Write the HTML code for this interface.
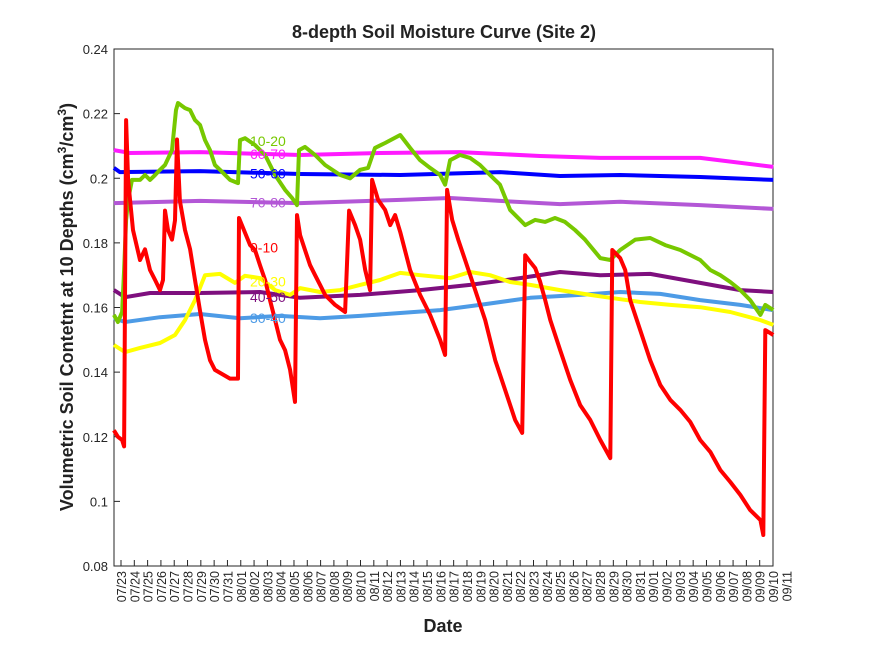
<!DOCTYPE html>
<html><head><meta charset="utf-8"><style>
body{margin:0;background:#fff;width:875px;height:656px;overflow:hidden}
svg{display:block;font-family:"Liberation Sans",sans-serif}
</style></head><body>
<svg id="chart" width="875" height="656" viewBox="0 0 875 656">
<rect x="0" y="0" width="875" height="656" fill="#fff"/>
<text x="444" y="38" text-anchor="middle" font-size="18" font-weight="bold" fill="#222">8-depth Soil Moisture Curve (Site 2)</text>
<text x="443" y="632" text-anchor="middle" font-size="18" font-weight="bold" fill="#222">Date</text>
<text transform="translate(73,307) rotate(-90)" text-anchor="middle" font-size="18" font-weight="bold" fill="#222">Volumetric Soil Contetnt at 10 Depths (cm<tspan font-size="12" dy="-7">3</tspan><tspan dy="7">/cm</tspan><tspan font-size="12" dy="-7">3</tspan><tspan dy="7">)</tspan></text>
<g id="axes"></g><g id="lines"></g><g id="labels"></g>
</svg>
<script>
const yTicks=[0.08,0.1,0.12,0.14,0.16,0.18,0.2,0.22,0.24];
const yTickLabels=["0.08","0.1","0.12","0.14","0.16","0.18","0.2","0.22","0.24"];
const dateLabels=["07/23","07/24","07/25","07/26","07/27","07/28","07/29","07/30","07/31","08/01","08/02","08/03","08/04","08/05","08/06","08/07","08/08","08/09","08/10","08/11","08/12","08/13","08/14","08/15","08/16","08/17","08/18","08/19","08/20","08/21","08/22","08/23","08/24","08/25","08/26","08/27","08/28","08/29","08/30","08/31","09/01","09/02","09/03","09/04","09/05","09/06","09/07","09/08","09/09","09/10","09/11"];
const s0_10_d=[-0.53,-0.23,0.08,0.23,0.38,0.53,0.9,1.43,1.8,2.18,2.56,2.93,3.16,3.31,3.53,3.83,4.06,4.21,4.43,4.81,5.19,5.56,5.94,6.31,6.69,7.06,8.19,8.79,8.87,9.24,9.7,10.07,10.45,10.83,11.2,11.58,11.95,12.33,12.71,13.08,13.23,13.46,13.83,14.21,14.59,14.96,15.34,16.09,16.84,17.14,17.59,17.97,18.35,18.72,18.87,19.32,19.85,20.23,20.6,20.98,21.73,22.48,23.23,23.98,24.36,24.51,24.89,25.34,25.86,26.62,27.37,28.12,28.87,29.62,30.15,30.38,30.75,31.13,31.5,31.88,32.26,33.01,33.76,34.51,35.26,36.02,36.77,36.92,37.52,37.89,38.27,39.02,39.77,40.53,41.28,42.03,42.78,43.53,44.29,45.04,45.79,46.54,47.29,48.05,48.27,48.42,49.02];
const s0_10_v=[.122,.120,.119,.117,.218,.1995,.184,.1747,.178,.1716,.1685,.1654,.1685,.190,.184,.181,.187,.212,.193,.184,.178,.1685,.159,.150,.1437,.1407,.138,.138,.1877,.184,.1793,.1778,.1731,.1685,.1623,.1561,.150,.1468,.1407,.1308,.1886,.1824,.1778,.1731,.170,.167,.1639,.1608,.1586,.190,.1855,.181,.1716,.1654,.1995,.1933,.1902,.1855,.1886,.1834,.1716,.1639,.1577,.150,.1453,.1964,.1871,.181,.1747,.1654,.1561,.1437,.1345,.1252,.1212,.1762,.1741,.1722,.168,.1623,.1561,.1468,.1376,.1298,.1252,.119,.1134,.1778,.1753,.1716,.1623,.153,.1437,.136,.1314,.1283,.1246,.119,.1153,.1097,.106,.102,.0973,.0942,.0896,.153,.1515];
const s10_20_d=[-0.53,-0.23,0.08,0.23,0.38,0.53,0.83,1.43,1.8,2.18,2.56,2.93,3.31,3.83,4.13,4.28,4.81,5.19,5.56,5.94,6.31,6.69,7.06,7.44,8.19,8.79,8.94,9.32,10.07,10.83,11.58,12.33,12.86,13.23,13.38,13.83,14.59,15.34,16.47,17.22,17.97,18.57,19.09,19.85,20.98,21.73,22.48,23.23,23.98,24.36,24.73,25.48,26.23,26.98,27.73,28.48,29.24,29.99,30.38,31.13,31.88,32.62,33.37,34.12,34.87,36.02,36.77,37.52,38.65,39.77,40.9,42.03,43.53,44.29,45.04,45.79,46.54,47.29,48.05,48.42,49.02];
const s10_20_v=[.1577,.1555,.1586,.1716,.1871,.1933,.1995,.1995,.201,.1995,.201,.2026,.2041,.2087,.2211,.2233,.2217,.2211,.218,.2165,.2118,.2087,.2041,.2026,.1995,.1985,.2118,.2124,.2103,.2072,.201,.1964,.1939,.1917,.2087,.2097,.2072,.2041,.201,.200,.2026,.2032,.2094,.2109,.2134,.2094,.2056,.2032,.201,.198,.2056,.2072,.2063,.2041,.201,.198,.1902,.1871,.1855,.1871,.1865,.1877,.1865,.184,.181,.1753,.1747,.1778,.181,.1815,.1793,.1778,.1747,.1716,.170,.1679,.1654,.1623,.1577,.1608,.1592];
const s20_30_d=[-0.53,0.3,1.43,2.93,4.06,4.81,5.56,6.31,7.44,8.57,9.32,10.45,11.58,12.71,13.46,14.96,16.47,17.97,19.47,20.98,22.48,24.73,26.23,27.73,29.24,30.75,33.0,35.26,36.77,39.02,41.28,43.53,45.79,48.05,49.02];
const s20_30_v=[.1484,.1462,.1475,.149,.1515,.1561,.1623,.170,.1704,.1676,.1698,.1691,.1654,.1639,.166,.1648,.1654,.167,.1685,.1707,.170,.1691,.171,.170,.1679,.167,.1654,.1639,.163,.1617,.1608,.1601,.1586,.1561,.1546];
const s30_40_d=[-0.53,0.3,2.93,5.94,8.94,11.95,14.96,17.97,20.98,23.98,26.98,30.75,34.51,37.52,40.53,43.53,46.54,49.02];
const s30_40_v=[.1567,.1555,.157,.158,.1567,.1574,.1567,.1574,.1583,.1592,.1608,.163,.1639,.1648,.1642,.1623,.1608,.1592];
const s40_50_d=[-0.53,0.3,2.18,5.94,10.45,13.46,17.97,22.48,26.23,29.99,33.0,36.02,39.77,43.53,46.54,49.02];
const s40_50_v=[.1654,.1632,.1645,.1645,.1648,.163,.1639,.1654,.167,.1691,.171,.170,.1704,.1676,.1654,.1648];
const s50_60_d=[-0.53,-0.08,5.94,13.46,20.98,28.48,32.99,37.52,43.53,49.02];
const s50_60_v=[.2032,.2019,.2022,.2013,.201,.2019,.2007,.201,.2004,.1995];
const s60_70_d=[-0.53,0.68,5.94,13.46,19.47,25.48,31.5,36.02,43.53,49.02];
const s60_70_v=[.2087,.2078,.2081,.2072,.2078,.2081,.2069,.2063,.2063,.2035];
const s70_80_d=[-0.53,5.94,13.46,20.98,24.73,28.48,32.99,37.52,43.53,49.02];
const s70_80_v=[.1923,.193,.1923,.1933,.1939,.193,.192,.1927,.1917,.1905];
const seriesNames=["0-10","10-20","20-30","30-40","40-50","50-60","60-70","70-80"];

const X0=114,X1=773,Y0=49,Y1=566;
const xs=d=>121+d*(773-121)/49;
const ys=v=>Y1-(v-0.08)/(0.16)*(Y1-Y0);
const NS="http://www.w3.org/2000/svg";
function mk(tag,attrs,parent){const e=document.createElementNS(NS,tag);for(const k in attrs)e.setAttribute(k,attrs[k]);parent.appendChild(e);return e;}
const axes=document.getElementById('axes'),lines=document.getElementById('lines'),labels=document.getElementById('labels');
const frame=mk('rect',{x:X0,y:Y0,width:X1-X0,height:Y1-Y0,fill:'none',stroke:'#262626','stroke-width':1},axes);


yTicks.forEach((t,i)=>{const y=ys(t);
 const tk=mk('line',{x1:X0,x2:X0+6,y1:y,y2:y,stroke:'#262626'},axes);
 
 
 const tl=mk('text',{x:X0-6,y:y+5,'text-anchor':'end','font-size':13,fill:'#262626'},axes);
 tl.textContent=yTickLabels[i];
 
 
});
dateLabels.forEach((lab,i)=>{const x=xs(i);
 if(i<=49){const tk=mk('line',{x1:x,x2:x,y1:Y1,y2:Y1-6,stroke:'#262626'},axes);
 
 }
 const tl=mk('text',{transform:`translate(${x+5},${Y1+5}) rotate(-90)`,'text-anchor':'end','font-size':12.5,fill:'#262626'},axes);
 tl.textContent=lab;
 
 
});
const series=[
 [s60_70_d,s60_70_v,'#ff1aff','60-70'],
 [s50_60_d,s50_60_v,'#0000ff','50-60'],
 [s70_80_d,s70_80_v,'#b357d6','70-80'],
 [s40_50_d,s40_50_v,'#7e0f7e','40-50'],
 [s30_40_d,s30_40_v,'#4d9be6','30-40'],
 [s20_30_d,s20_30_v,'#ffff00','20-30'],
 [s10_20_d,s10_20_v,'#77c800','10-20'],
 [s0_10_d,s0_10_v,'#ff0000','0-10']];
series.forEach(s=>{const pts=s[0].map((d,i)=>xs(d).toFixed(1)+','+ys(s[1][i]).toFixed(1)).join(' ');
 const p=mk('polyline',{points:pts,fill:'none',stroke:s[2],'stroke-width':4,'stroke-linejoin':'round'},lines);
 
 
});
const labelPos={"10-20":[.2115,'#77c800'],"60-70":[.2075,'#ff1aff'],"50-60":[.2015,'#0000ff'],"70-80":[.1925,'#b357d6'],"0-10":[.1785,'#ff0000'],"20-30":[.168,'#ffff00'],"40-50":[.1633,'#7e0f7e'],"30-40":[.1567,'#4d9be6']};
seriesNames.forEach(n=>{const t=mk('text',{x:250,y:ys(labelPos[n][0])+5,'font-size':14,fill:labelPos[n][1]},labels);
 t.textContent=n;
 
 
});
</script>
</body></html>
